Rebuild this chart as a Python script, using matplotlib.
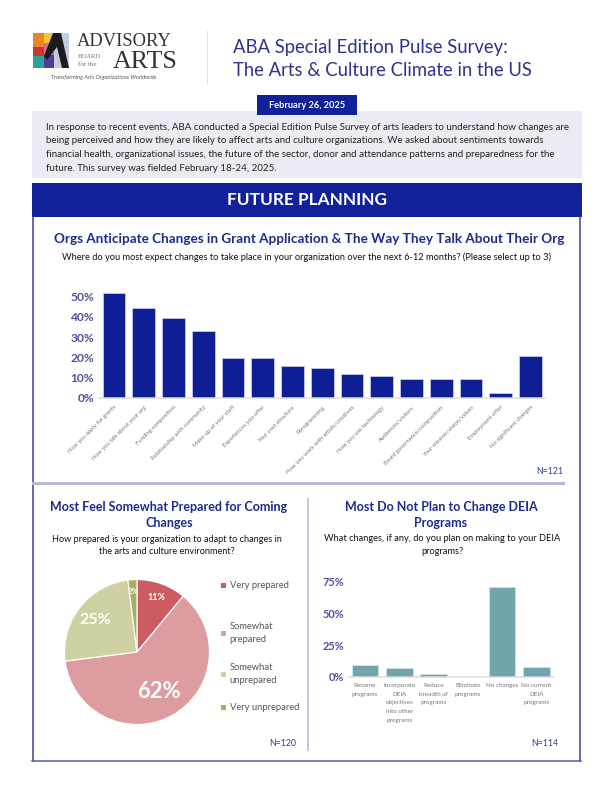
import math
import matplotlib
matplotlib.use("Agg")
import matplotlib.pyplot as plt
from matplotlib.patches import Rectangle, Polygon

plt.rcParams['font.family'] = ['Lato', 'DejaVu Sans']

# ---------------- data ----------------
change_categories = ["How you apply for grants", "How you talk about your org", "Funding composition",
                     "Relationship with community", "Make-up of your staff", "Experiences you offer",
                     "Your cost structure", "Pprogramming", "How you work with artists/creatives",
                     "How you use technology", "Audiences/visitors", "Board governance/composition",
                     "Your mission/vision/values", "Employment offer", "No significant changes"]
change_pct = [51.7, 44.3, 39.7, 33.1, 19.8, 19.8, 15.7, 14.9, 11.6, 10.7, 9.1, 9.1, 9.1, 2.5, 20.7]
change_ticks = [0, 10, 20, 30, 40, 50]

prep_labels = ["Very prepared", "Somewhat\nprepared", "Somewhat\nunprepared", "Very unprepared"]
prep_pct = [11, 62, 25, 2]
prep_text = ["11%", "62%", "25%", "2%"]

deia_categories = ["Rename\nprograms", "Incorporate\nDEIA\nobjectives\ninto other\nprograms",
                   "Reduce\nbreadth of\nprograms", "Eliminate\nprograms", "No changes",
                   "No current\nDEIA\nprograms"]
deia_pct = [9.0, 6.8, 2.5, 0.0, 71.0, 7.7]
deia_ticks = [0, 25, 50, 75]

# ---------------- styles ----------------
NAVY = "#0e1f96"
TITLE_BLUE = "#1d2a94"
TICK_COL = "#4f4f9f"
TEAL = "#6fa5ab"
PIE_COLS = ["#cc5b62", "#dd9ca0", "#cfd1a2", "#a8ae60"]

W, H = 612, 792
fig = plt.figure(figsize=(W / 72, H / 72), dpi=72)


def frac(x0, y0, x1, y1):
    return [x0 / W, 1 - y1 / H, (x1 - x0) / W, (y1 - y0) / H]


bg = fig.add_axes([0, 0, 1, 1])
bg.set_xlim(0, W)
bg.set_ylim(H, 0)
bg.axis('off')

# ---------------- logo ----------------
logo_cols = [("#e9862b", 33, 33, 44, 47), ("#f3c634", 44, 33, 54, 43), ("#c9382e", 33, 47, 44, 56),
             ("#e06a8a", 44, 43, 54, 55), ("#2f9f9a", 33, 56, 44, 68), ("#4c3f9b", 44, 55, 58, 68),
             ("#c7cbe0", 54, 33, 69, 68)]
for c, x0, y0, x1, y1 in logo_cols:
    bg.add_patch(Rectangle((x0, y0), x1 - x0, y1 - y0, color=c, lw=0))
bg.add_patch(Polygon([(53, 33), (61, 33), (69, 68), (62, 68), (57, 47), (47, 60), (44, 56)],
                     closed=True, color="#1b1b1b", lw=0))
bg.text(77, 46.5, "ADVISORY", family="Liberation Serif", fontsize=18.5, color="#333333",
        va="baseline", ha="left")
bg.text(77.5, 57.5, "BOARD", family="Liberation Serif", fontsize=6.6, color="#777777",
        va="baseline")
bg.text(77.5, 65.5, "for the", family="Liberation Serif", fontsize=7, color="#777777",
        va="baseline")
bg.text(178, 67.5, "ARTS", family="Liberation Serif", fontsize=26, color="#333333",
        va="baseline", ha="right")
bg.text(104, 77.5, "Transforming Arts Organizations Worldwide", fontsize=5.7, style="italic",
        color="#555555", va="center", ha="center")
bg.plot([207, 207], [31, 83], color="#dddddd", lw=1)

bg.text(233, 47, "ABA Special Edition Pulse Survey:", fontsize=18.5, color="#2e3192",
        va="center", ha="left")
bg.text(233, 70, "The Arts & Culture Climate in the US", fontsize=18.5, color="#2e3192",
        va="center", ha="left")

# ---------------- intro box ----------------
bg.add_patch(Rectangle((32, 111), 550, 67, color="#ebebf3", lw=0))
bg.add_patch(Rectangle((257, 95), 100, 20, color="#10219a", lw=0))
bg.text(307, 105, "February 26, 2025", fontsize=9.2, weight="bold", color="white",
        ha="center", va="center")
intro_lines = ["In response to recent events, ABA conducted a Special Edition Pulse Survey of arts leaders to understand how changes are",
               "being perceived and how they are likely to affect arts and culture organizations. We asked about sentiments towards",
               "financial health, organizational issues, the future of the sector, donor and attendance patterns and preparedness for the",
               "future. This survey was fielded February 18-24, 2025."]
for i, line in enumerate(intro_lines):
    bg.text(46, 127 + 13.8 * i, line, fontsize=9.8, color="#222222", ha="left", va="center")

# ---------------- section frame ----------------
bg.add_patch(Rectangle((32, 183), 550, 34, color="#10219a", lw=0))
bg.text(307, 200, "FUTURE PLANNING", fontsize=17.2, weight="bold", color="white",
        ha="center", va="center")
bg.plot([32.5, 32.5], [217, 761], color="#3a3d96", lw=1.5)
bg.plot([580, 580], [217, 761], color="#3a3d96", lw=1.5)
bg.plot([32, 580.7], [761, 761], color="#5558a8", lw=1.5)
bg.plot([33, 563], [483, 483], color="#b6b8d8", lw=3)
bg.plot([308, 308], [499, 750], color="#c4c6e0", lw=2)

bg.text(309, 239, "Orgs Anticipate Changes in Grant Application & The Way They Talk About Their Org",
        fontsize=13.5, weight="bold", color=TITLE_BLUE, ha="center", va="center")
bg.text(307, 257, "Where do you most expect changes to take place in your organization over the next 6-12 months? (Please select up to 3)",
        fontsize=9.3, color="#111111", ha="center", va="center")
bg.text(563, 471, "N=121", fontsize=8.8, color="#2a3a9a", ha="right", va="center")

# ---------------- main bar chart ----------------
ax1 = fig.add_axes(frac(99.1, 286.6, 545.4, 397.7))
ax1.patch.set_alpha(0)
xs = list(range(len(change_categories)))
ax1.bar(xs, change_pct, width=0.77, color=NAVY, edgecolor="#c9cbe9", linewidth=0.8)
ax1.set_xlim(-0.5, len(change_categories) - 0.5)
ax1.set_ylim(0, 55)
ax1.set_yticks(change_ticks)
ax1.set_yticklabels([f"{t}%" for t in change_ticks], fontsize=12, weight="bold", color=TICK_COL)
ax1.tick_params(axis="y", length=0, pad=5)
ax1.set_xticks(xs)
ax1.set_xticklabels(change_categories, rotation=45, ha="right", va="top",
                    rotation_mode="anchor", fontsize=5.9, color="#777777")
ax1.tick_params(axis="x", length=0, pad=7)
for s in ["top", "right", "left"]:
    ax1.spines[s].set_visible(False)
ax1.spines["bottom"].set_color("#dcdcdc")
ax1.spines["bottom"].set_linewidth(1.5)

# ---------------- pie panel ----------------
bg.text(169, 507, "Most Feel Somewhat Prepared for Coming", fontsize=12.5, weight="bold",
        color=TITLE_BLUE, ha="center", va="center")
bg.text(169, 523, "Changes", fontsize=12.5, weight="bold", color=TITLE_BLUE, ha="center", va="center")
bg.text(167, 539, "How prepared is your organization to adapt to changes in",
        fontsize=9.1, color="#111111", ha="center", va="center")
bg.text(167, 551.5, "the arts and culture environment?",
        fontsize=9.1, color="#111111", ha="center", va="center")

axp = fig.add_axes(frac(64.5, 579.5, 209.5, 724.5))
wedges, _ = axp.pie(prep_pct, colors=PIE_COLS, startangle=90, counterclock=False,
                    wedgeprops=dict(edgecolor="white", linewidth=1.2))
axp.set_xlim(-1, 1)
axp.set_ylim(-1, 1)
axp.set_aspect("equal")
radii = [0.8, 0.62, 0.73, 0.83]
sizes = [9, 22, 16, 8]
for w, t, r, s in zip(wedges, prep_text, radii, sizes):
    a = math.radians((w.theta1 + w.theta2) / 2)
    axp.text(r * math.cos(a), r * math.sin(a), t, fontsize=s, weight="bold", color="white",
             ha="center", va="center")

leg_y = [585, 633, 674, 707]
for c, lab, y in zip(PIE_COLS, prep_labels, leg_y):
    bg.add_patch(Rectangle((221, y - 2.5), 5, 5, color=c, lw=0))
    t = bg.text(229.5, y, lab, fontsize=9.4, color="#555555", ha="left", va="center")
    t.set_linespacing(1.5)
bg.text(296, 743, "N=120", fontsize=8.8, color="#2a3a9a", ha="right", va="center")

# ---------------- DEIA panel ----------------
bg.text(441, 507, "Most Do Not Plan to Change DEIA", fontsize=12.5, weight="bold",
        color=TITLE_BLUE, ha="center", va="center")
bg.text(441, 523, "Programs", fontsize=12.5, weight="bold", color=TITLE_BLUE, ha="center", va="center")
bg.text(442, 538.5, "What changes, if any, do you plan on making to your DEIA",
        fontsize=9.2, color="#111111", ha="center", va="center")
bg.text(442, 551.5, "programs?", fontsize=9.2, color="#111111", ha="center", va="center")

ax2 = fig.add_axes(frac(347.9, 575.4, 553.7, 676.7))
ax2.patch.set_alpha(0)
xd = list(range(len(deia_categories)))
ax2.bar(xd, deia_pct, width=0.77, color=TEAL, edgecolor="#d6e4e6", linewidth=0.8)
ax2.set_xlim(-0.5, len(deia_categories) - 0.5)
ax2.set_ylim(0, 80)
ax2.set_yticks(deia_ticks)
ax2.set_yticklabels([f"{t}%" for t in deia_ticks], fontsize=11, weight="bold", color=TICK_COL)
ax2.tick_params(axis="y", length=0, pad=4)
ax2.set_xticks(xd)
ax2.set_xticklabels(deia_categories, fontsize=6.3, color="#777777", ha="center", va="top")
for lbl in ax2.get_xticklabels():
    lbl.set_linespacing(1.95)
ax2.tick_params(axis="x", length=0, pad=6)
for s in ["top", "right", "left"]:
    ax2.spines[s].set_visible(False)
ax2.spines["bottom"].set_color("#dcdcdc")
ax2.spines["bottom"].set_linewidth(1.5)
bg.text(558, 743, "N=114", fontsize=8.8, color="#2a3a9a", ha="right", va="center")

fig.savefig("out.png", dpi=72)
